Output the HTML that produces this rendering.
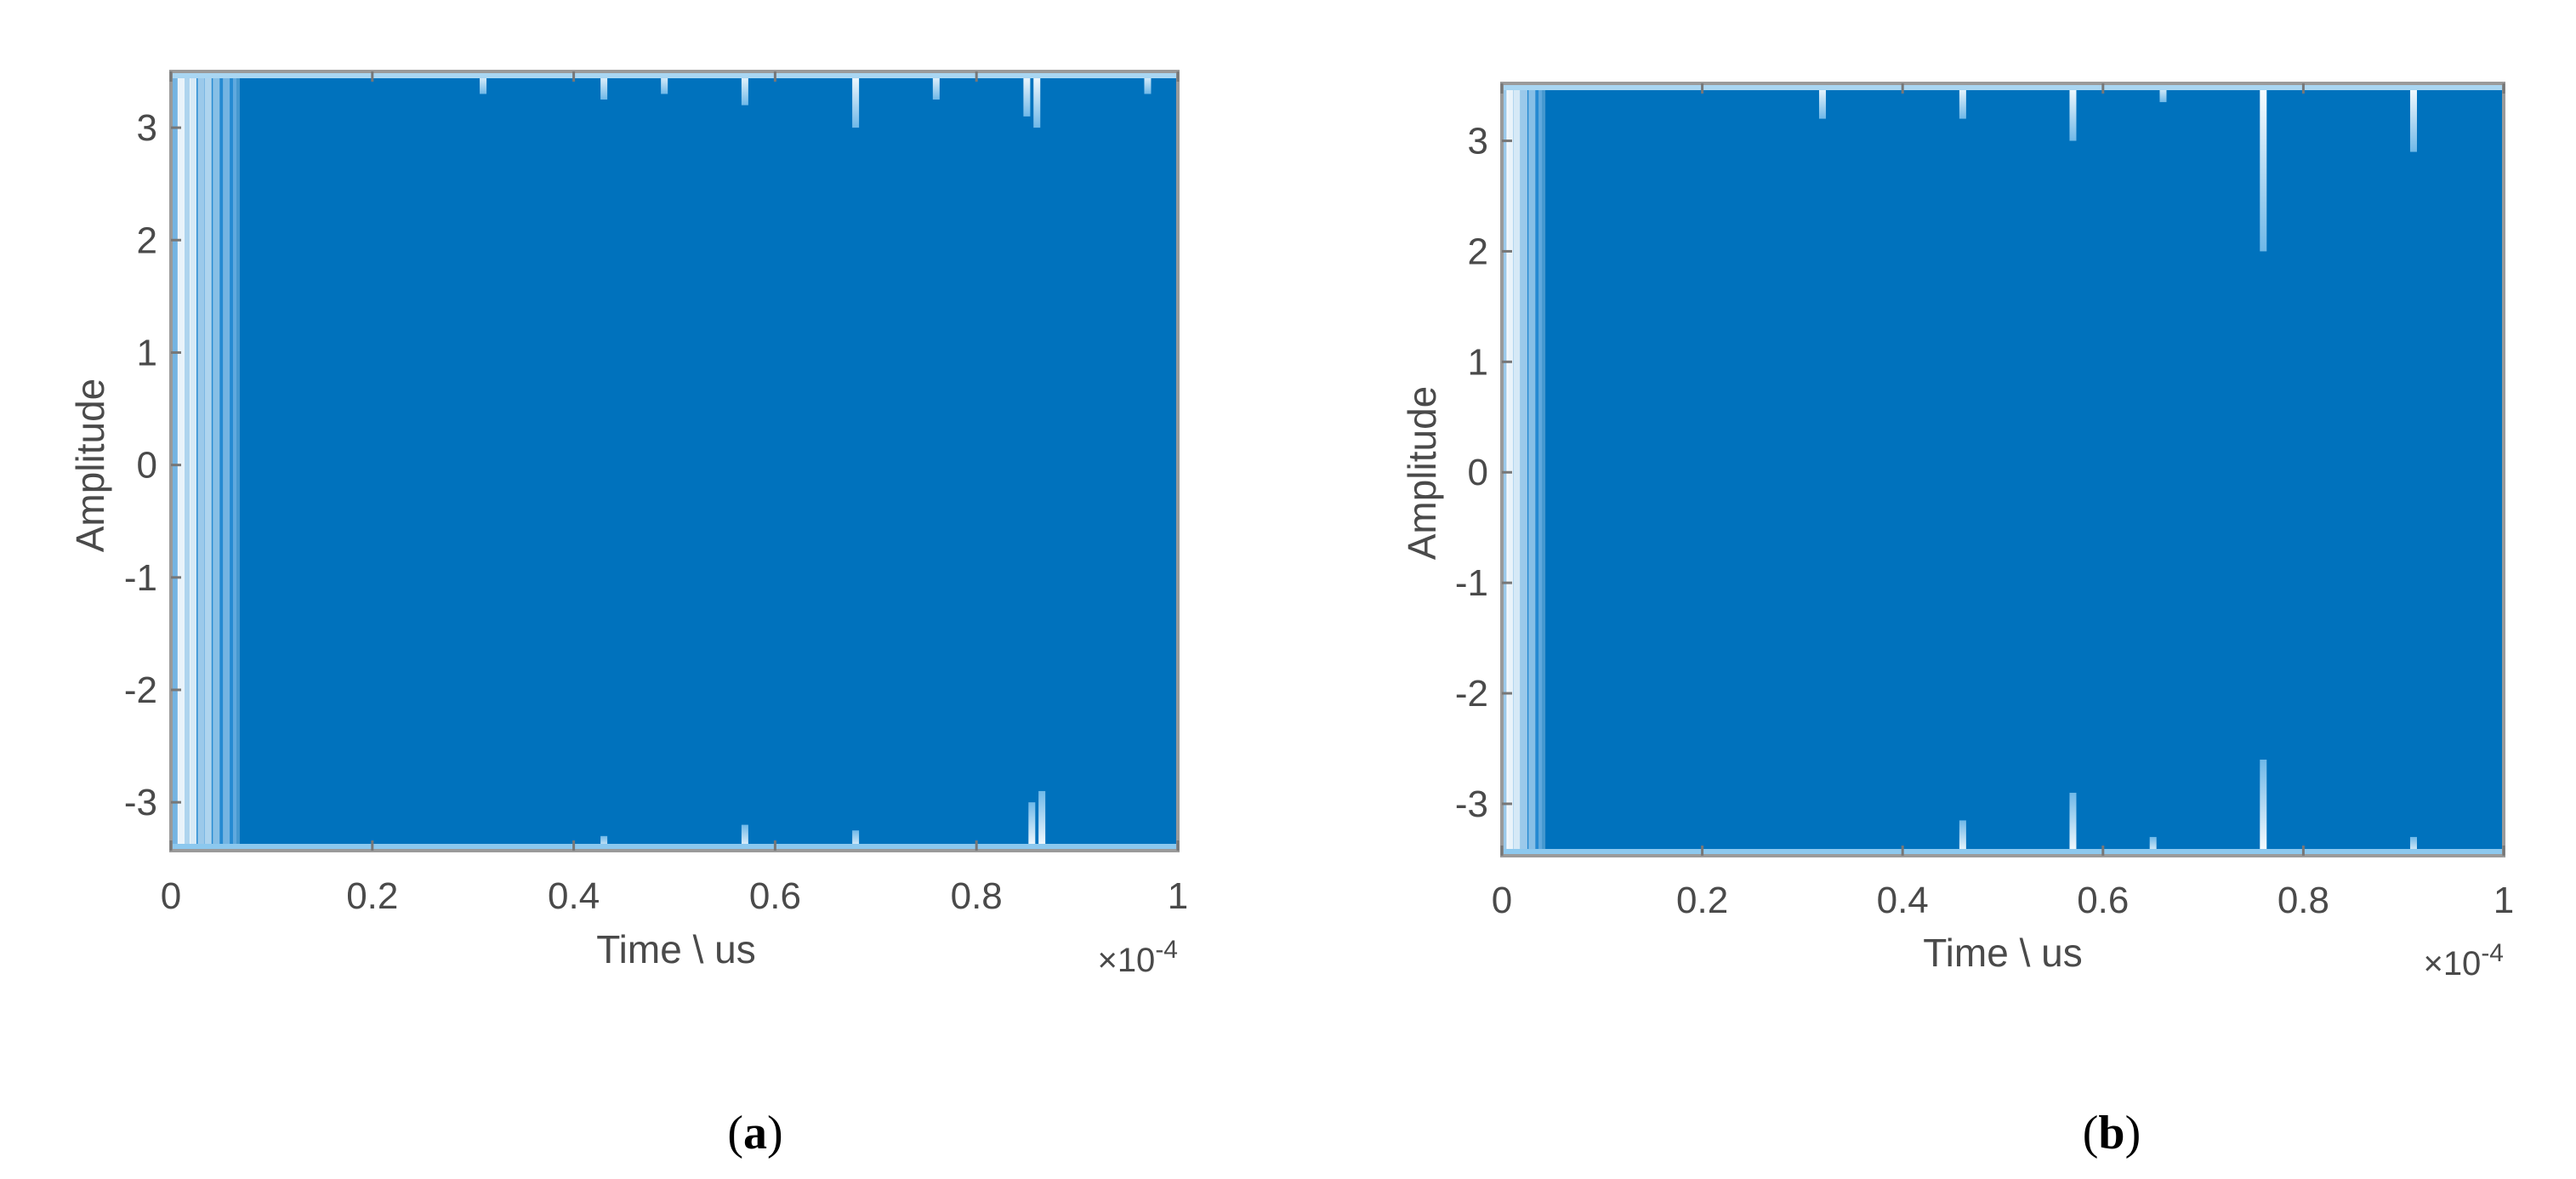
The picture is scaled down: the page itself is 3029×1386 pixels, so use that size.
<!DOCTYPE html>
<html><head><meta charset="utf-8"><style>
html,body{margin:0;padding:0;background:#fff;}
svg{display:block;}
text{font-family:"Liberation Sans",sans-serif;fill:#4a4a4a;}
</style></head><body>
<svg id="fig" width="3029" height="1386" viewBox="0 0 3029 1386" xmlns="http://www.w3.org/2000/svg">
<defs>
<linearGradient id="dipTop" x1="0" y1="0" x2="0" y2="1"><stop offset="0" stop-color="#ffffff"/><stop offset="1" stop-color="#6fb8e8"/></linearGradient>
<linearGradient id="dipBot" x1="0" y1="1" x2="0" y2="0"><stop offset="0" stop-color="#ffffff"/><stop offset="1" stop-color="#6fb8e8"/></linearGradient>
</defs>
</svg>
<script>
// ---- data ----
const xTicks = [0, 0.2, 0.4, 0.6, 0.8, 1];
const xTickLabels = ["0", "0.2", "0.4", "0.6", "0.8", "1"];
const yTicks = [-3, -2, -1, 0, 1, 2, 3];
const yTickLabels = ["-3", "-2", "-1", "0", "1", "2", "3"];
// panel a
const stripesA = [0.004, 0.01, 0.016, 0.022, 0.03, 0.037, 0.045, 0.055, 0.065];
const stripeLevelA = [0.4, 1.0, 0.7, 0.9, 0.6, 0.7, 0.5, 0.4, 0.3];
const topDipTimesA = [0.31, 0.43, 0.49, 0.57, 0.68, 0.76, 0.85, 0.86, 0.97];
const topDipDepthA = [3.3, 3.25, 3.3, 3.2, 3.0, 3.25, 3.1, 3.0, 3.3];
const botDipTimesA = [0.43, 0.57, 0.68, 0.855, 0.865];
const botDipDepthA = [-3.3, -3.2, -3.25, -3.0, -2.9];
// panel b
const stripesB = [0.003, 0.008, 0.015, 0.022, 0.03, 0.04];
const stripeLevelB = [0.6, 1.0, 0.9, 0.6, 0.5, 0.3];
const topDipTimesB = [0.32, 0.46, 0.57, 0.66, 0.76, 0.91];
const topDipDepthB = [3.2, 3.2, 3.0, 3.35, 2.0, 2.9];
const botDipTimesB = [0.46, 0.57, 0.65, 0.76, 0.91];
const botDipDepthB = [-3.15, -2.9, -3.3, -2.6, -3.3];

const NS = "http://www.w3.org/2000/svg";
const svg = document.getElementById('fig');
function mk(tag, attrs, parent){const e=document.createElementNS(NS,tag);for(const k in attrs)e.setAttribute(k,attrs[k]);(parent||svg).appendChild(e);return e;}

function panel(o){
  const g = mk('g',{});
  
  
  const X = t => o.x0 + (t - 0) / 1 * (o.x1 - o.x0);
  const Y = v => o.y0 + (o.ymax - v) / (o.ymax - o.ymin) * (o.y1 - o.y0);
  const band = mk('rect',{x:X(0),y:Y(o.ymax),width:X(1)-X(0),height:Y(o.ymin)-Y(o.ymax),fill:'#0072BD'},g);
  
  
  // light transition region at start
  const fade = mk('rect',{x:X(0),y:Y(o.ymax),width:X(o.stripes[o.stripes.length-1])-X(0),height:Y(o.ymin)-Y(o.ymax),fill:'#3d9be0',opacity:0.6},g);
  
  
  o.stripes.forEach((t,i)=>{
    const l = mk('line',{x1:X(t),x2:X(t),y1:Y(o.ymax),y2:Y(o.ymin),stroke:'#ffffff','stroke-width':8,opacity:o.levels[i]*0.9},g);
    
    
  });
  o.topT.forEach((t,i)=>{
    const l = mk('rect',{x:X(t)-4,y:Y(o.ymax),width:8,height:Y(o.topD[i])-Y(o.ymax),fill:'url(#dipTop)'},g);
    
    
  });
  o.botT.forEach((t,i)=>{
    const l = mk('rect',{x:X(t)-4,y:Y(o.botD[i]),width:8,height:Y(o.ymin)-Y(o.botD[i]),fill:'url(#dipBot)'},g);
    
    
  });
  mk('line',{x1:X(0),x2:X(1),y1:Y(o.ymax)+5,y2:Y(o.ymax)+5,stroke:'#a9d6f2','stroke-width':6},g);
  mk('line',{x1:X(0),x2:X(1),y1:Y(o.ymin)-5,y2:Y(o.ymin)-5,stroke:'#8cc8ee','stroke-width':6},g);
  const box = mk('rect',{x:X(0),y:Y(o.ymax),width:X(1)-X(0),height:Y(o.ymin)-Y(o.ymax),fill:'none',stroke:'#9a9a9a','stroke-width':4},g);
  
  
  xTicks.forEach((t,i)=>{
    mk('line',{x1:X(t),x2:X(t),y1:Y(o.ymin),y2:Y(o.ymin)-12,stroke:'#777','stroke-width':3},g);
    mk('line',{x1:X(t),x2:X(t),y1:Y(o.ymax),y2:Y(o.ymax)+12,stroke:'#777','stroke-width':3},g);
    const tx = mk('text',{x:X(t),y:o.xlabY,'font-size':44,'text-anchor':'middle'},g);
    tx.textContent = xTickLabels[i];
    
    
  });
  yTicks.forEach((v,i)=>{
    mk('line',{x1:X(0),x2:X(0)+12,y1:Y(v),y2:Y(v),stroke:'#777','stroke-width':3},g);
    const ty = mk('text',{x:X(0)-16,y:Y(v)+15,'font-size':44,'text-anchor':'end'},g);
    ty.textContent = yTickLabels[i];
    
    
  });
  const xt = mk('text',{x:o.xtX,y:o.xtY,'font-size':46,'text-anchor':'middle'},g);
  xt.textContent = 'Time  \\  us';
  
  
  const ex = mk('text',{x:X(1),y:o.xtY+10,'font-size':40,'text-anchor':'end'},g);
  ex.innerHTML = '×10<tspan dy="-16" font-size="30">-4</tspan>';
  
  
  const yt = mk('text',{x:o.ytX,y:o.ytY,'font-size':46,'text-anchor':'middle',transform:`rotate(-90 ${o.ytX} ${o.ytY})`},g);
  yt.textContent = 'Amplitude';
  
  
  const cap = mk('text',{x:o.capX,y:1350,'font-size':56,'text-anchor':'middle',style:'font-family:"Liberation Serif",serif;fill:#000'},g);
  cap.innerHTML = '(<tspan font-weight="bold">' + o.cap + '</tspan>)';
  
  
}

panel({name:'panel-a',x0:201,x1:1385,y0:84,y1:1000,ymin:-3.43,ymax:3.5,
  stripes:stripesA,levels:stripeLevelA,topT:topDipTimesA,topD:topDipDepthA,botT:botDipTimesA,botD:botDipDepthA,
  xlabY:1068,xtX:795,xtY:1132,ytX:122,ytY:547,capX:888,cap:'a'});
panel({name:'panel-b',x0:1766,x1:2944,y0:98,y1:1006,ymin:-3.47,ymax:3.52,
  stripes:stripesB,levels:stripeLevelB,topT:topDipTimesB,topD:topDipDepthB,botT:botDipTimesB,botD:botDipDepthB,
  xlabY:1073,xtX:2355,xtY:1136,ytX:1688,ytY:556,capX:2483,cap:'b'});
</script>
</body></html>
